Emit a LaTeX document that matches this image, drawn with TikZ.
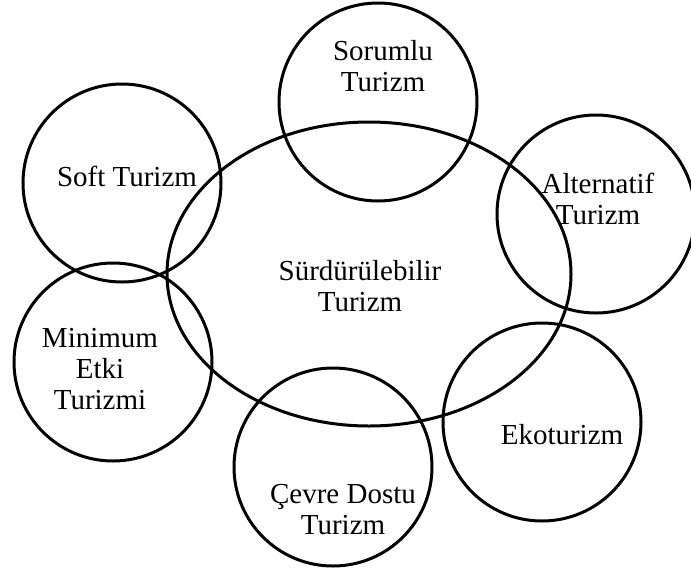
\documentclass[tikz,border=0pt]{standalone}
\usepackage{fontspec}
\setmainfont{Liberation Serif}
\usetikzlibrary{shapes.geometric}

\begin{document}
\begin{tikzpicture}[x=0.5pt, y=-0.5pt,
    ring/.style={circle, draw=black, line width=1.5pt, minimum size=99pt, inner sep=0pt},
    lbl/.style={align=center, font=\fontsize{14.5}{15.5}\selectfont}]
    \useasboundingbox (0,0) rectangle (691,569);

    \node[ellipse, draw=black, line width=1.5pt, minimum width=202pt, minimum height=152pt, inner sep=0pt] (surd) at (369, 274) {};

    \node[ring] (sorumlu) at (378, 102) {};
    \node[ring] (soft) at (122, 183) {};
    \node[ring] (alternatif) at (596, 214) {};
    \node[ring] (minimum) at (113, 362) {};
    \node[ring] (eko) at (542, 422) {};
    \node[ring] (cevre) at (333, 467) {};

    \node[lbl] (tsurd) at (360, 286) {Sürdürülebilir\\Turizm};
    \node[lbl] (tsorumlu) at (383, 66) {Sorumlu\\Turizm};
    \node[lbl] (tsoft) at (127, 176) {Soft Turizm};
    \node[lbl] (talternatif) at (598, 199) {Alternatif\\Turizm};
    \node[lbl] (tminimum) at (100, 369) {Minimum\\Etki\\Turizmi};
    \node[lbl] (teko) at (562, 435) {Ekoturizm};
    \node[lbl] (tcevre) at (343, 510) {Çevre Dostu\\Turizm};
  \end{tikzpicture}
\end{document}
